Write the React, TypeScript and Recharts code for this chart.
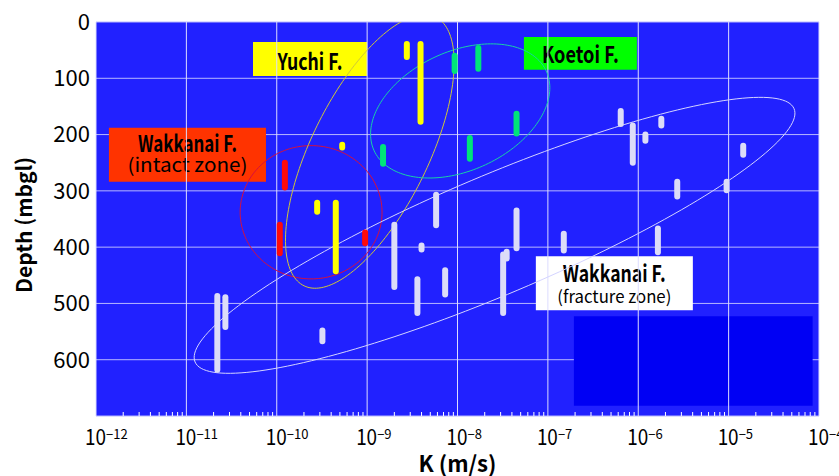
import React from 'react'
import {
  ComposedChart,
  Line,
  XAxis,
  YAxis,
  CartesianGrid,
  ReferenceLine,
  ReferenceArea,
} from 'recharts'

// Hydraulic conductivity test intervals: K (m/s) and depth range (mbgl)
const fractureK = [2.2e-11, 2.7e-11, 3.2e-10, 2.0e-9, 3.6e-9, 4.0e-9, 5.8e-9, 7.3e-9, 3.2e-8, 3.5e-8, 4.5e-8, 1.5e-7, 6.4e-7, 8.7e-7, 1.2e-6, 1.65e-6, 1.8e-6, 2.7e-6, 9.5e-6, 1.45e-5]
const fractureTop = [487, 489, 548, 360, 457, 397, 307, 441, 413, 408, 335, 376, 158, 184, 200, 367, 172, 284, 284, 220]
const fractureBottom = [618, 542, 567, 471, 517, 404, 361, 484, 517, 420, 402, 406, 181, 250, 211, 409, 184, 310, 299, 236]

const yuchiK = [2.8e-10, 4.5e-10, 5.3e-10, 2.75e-9, 3.9e-9]
const yuchiTop = [321, 321, 218, 39, 39]
const yuchiBottom = [337, 443, 223, 62, 177]

const koetoiK = [1.5e-9, 9.3e-9, 1.7e-8, 1.37e-8, 4.5e-8]
const koetoiTop = [222, 60, 46, 206, 163]
const koetoiBottom = [252, 87, 83, 243, 198]

const intactK = [1.23e-10, 1.08e-10, 9.5e-10]
const intactTop = [250, 360, 374]
const intactBottom = [294, 411, 393]

const majorTicks = [1e-12, 1e-11, 1e-10, 1e-9, 1e-8, 1e-7, 1e-6, 1e-5, 1e-4]
const tickExponents = ['−12', '−11', '−10', '−9', '−8', '−7', '−6', '−5', '−4']
const depthTicks = [0, 100, 200, 300, 400, 500, 600]

// minor ticks 2..9 inside each decade
const minorTicks: number[] = []
majorTicks.slice(0, -1).forEach((d) => {
  for (let m = 2; m <= 9; m++) minorTicks.push(m * d)
})

// group envelopes: centre (log10 K, depth), semi-axes in decades, tilt in degrees
const DEPTH_PER_DECADE = 160
const envelopes = [
  { name: 'intact', logK: -9.62, depth: 338, a: 0.785, b: 0.74, tilt: 0, color: '#d8103c' },
  { name: 'yuchi', logK: -8.97, depth: 230, a: 1.66, b: 0.65, tilt: 64, color: '#d0c838' },
  { name: 'koetoi', logK: -7.97, depth: 158, a: 1.05, b: 0.66, tilt: 25, color: '#18d0a8' },
  { name: 'fracture', logK: -7.59, depth: 379, a: 3.6, b: 0.66, tilt: 23, color: '#d4d4ff' },
]

function ellipse(e: typeof envelopes[number]) {
  const pts: { k: number; d: number }[] = []
  const th = (e.tilt * Math.PI) / 180
  for (let i = 0; i <= 180; i++) {
    const t = (i / 180) * Math.PI * 2
    const u = e.a * Math.cos(t) * Math.cos(th) - e.b * Math.sin(t) * Math.sin(th)
    const v = e.a * Math.cos(t) * Math.sin(th) + e.b * Math.sin(t) * Math.cos(th)
    pts.push({ k: Math.pow(10, e.logK + u), d: e.depth - v * DEPTH_PER_DECADE })
  }
  return pts
}

const FONT = "'Noto Sans CJK JP', 'Noto Sans', sans-serif"

const XTick = (props: any) => {
  const { x, y, payload } = props
  const idx = majorTicks.indexOf(payload.value)
  if (idx < 0) {
    return <line x1={x} x2={x} y1={y - 4} y2={y} stroke="#ffffff" strokeWidth={1} />
  }
  return (
    <g>
      <text
        x={x - 11}
        y={y + 29}
        textAnchor="start"
        fontSize={22}
        fontFamily={FONT}
        fill="#000"
        textLength={21}
        lengthAdjust="spacingAndGlyphs"
      >
        10
      </text>
      <text x={x + 10} y={y + 23} textAnchor="start" fontSize={13} fontFamily={FONT} fill="#000">
        {tickExponents[idx]}
      </text>
    </g>
  )
}

type BoxLine = { text: string; bold: boolean; size: number; width: number; base: number }

const boxLabel = (lines: BoxLine[]) => (props: any) => {
  const { x, y, width } = props.viewBox
  const cx = x + width / 2
  return (
    <g>
      {lines.map((l, i) => (
        <text
          key={i}
          x={cx - l.width / 2}
          y={y + l.base}
          textAnchor="start"
          fontSize={l.size}
          fontWeight={l.bold ? 'bold' : 'normal'}
          fontFamily={FONT}
          fill="#000"
          textLength={l.width}
          lengthAdjust="spacingAndGlyphs"
        >
          {l.text}
        </text>
      ))}
    </g>
  )
}

function intervals(ks: number[], tops: number[], bottoms: number[], color: string, key: string) {
  return ks.map((k, i) => (
    <Line
      key={`${key}-${i}`}
      data={[
        { k, d: tops[i] },
        { k, d: bottoms[i] },
      ]}
      dataKey="d"
      type="linear"
      stroke={color}
      strokeWidth={6}
      strokeLinecap="round"
      dot={false}
      activeDot={false}
      isAnimationActive={false}
    />
  ))
}

export default function App() {
  return (
    <div style={{ position: 'absolute', left: 0, top: 0, background: '#fff' }}>
      <ComposedChart width={839} height={476} margin={{ top: 22, right: 20, left: 0, bottom: 0 }}>
        <CartesianGrid vertical={false} stroke="#b8b8ff" fill="#2121ff" fillOpacity={1} />
        <XAxis
          dataKey="k"
          type="number"
          scale="log"
          domain={[1e-12, 1e-4]}
          allowDataOverflow
          ticks={[...majorTicks, ...minorTicks]}
          interval={0}
          tick={<XTick />}
          tickLine={false}
          tickSize={0}
          tickMargin={0}
          axisLine={false}
          height={60}
          label={(p: any) => (
            <text
              x={p.viewBox.x + p.viewBox.width / 2 - 39}
              y={p.viewBox.y + 56}
              textAnchor="start"
              fontSize={22}
              fontWeight="bold"
              fontFamily={FONT}
              fill="#000"
              textLength={78}
              lengthAdjust="spacingAndGlyphs"
            >
              K (m/s)
            </text>
          )}
        />
        <YAxis
          type="number"
          reversed
          domain={[0, 700]}
          allowDataOverflow
          ticks={depthTicks}
          interval={0}
          tickLine={false}
          tickSize={0}
          tickMargin={6}
          axisLine={false}
          width={96}
          tick={{ fill: '#000', fontSize: 22, fontFamily: FONT }}
          label={() => (
            <text
              x={23}
              y={225}
              transform="rotate(-90 23 225)"
              textAnchor="middle"
              dominantBaseline="central"
              fontSize={21}
              fontWeight="bold"
              fontFamily={FONT}
              fill="#000"
            >
              Depth (mbgl)
            </text>
          )}
        />
        <ReferenceArea x1={1.94e-7} x2={8.5e-5} y1={523} y2={682} fill="#0000f4" fillOpacity={1} stroke="none" />
        {majorTicks.map((t) => (
          <ReferenceLine key={t} x={t} stroke="#dcdcff" strokeWidth={1} />
        ))}

        {envelopes.map((e) => (
          <Line
            key={e.name}
            data={ellipse(e)}
            dataKey="d"
            type="linear"
            stroke={e.color}
            strokeWidth={1}
            dot={false}
            activeDot={false}
            isAnimationActive={false}
          />
        ))}

        {intervals(fractureK, fractureTop, fractureBottom, '#dcdcf8', 'fr')}
        {intervals(koetoiK, koetoiTop, koetoiBottom, '#00e47a', 'ko')}
        {intervals(yuchiK, yuchiTop, yuchiBottom, '#ffff00', 'yu')}
        {intervals(intactK, intactTop, intactBottom, '#ff0a0a', 'in')}

        <ReferenceArea
          x1={5.46e-11}
          x2={1e-9}
          y1={35.5}
          y2={96}
          fill="#ffff00"
          fillOpacity={1}
          stroke="none"
          label={boxLabel([{ text: 'Yuchi F.', bold: true, size: 23, width: 65, base: 28 }])}
        />
        <ReferenceArea
          x1={5.43e-8}
          x2={9.66e-7}
          y1={26.6}
          y2={85}
          fill="#00ff00"
          fillOpacity={1}
          stroke="none"
          label={boxLabel([{ text: 'Koetoi F.', bold: true, size: 23, width: 77, base: 26 }])}
        />
        <ReferenceArea
          x1={1.39e-12}
          x2={7.6e-11}
          y1={188}
          y2={283.6}
          fill="#ff3300"
          fillOpacity={1}
          stroke="none"
          label={boxLabel([
            { text: 'Wakkanai F.', bold: true, size: 23, width: 99, base: 24 },
            { text: '(intact zone)', bold: false, size: 19, width: 120, base: 44 },
          ])}
        />
        <ReferenceArea
          x1={7.36e-8}
          x2={4.02e-6}
          y1={416}
          y2={512}
          fill="#ffffff"
          fillOpacity={1}
          stroke="none"
          label={boxLabel([
            { text: 'Wakkanai F.', bold: true, size: 23, width: 103, base: 26 },
            { text: '(fracture zone)', bold: false, size: 17, width: 114, base: 47 },
          ])}
        />
      </ComposedChart>
    </div>
  )
}
